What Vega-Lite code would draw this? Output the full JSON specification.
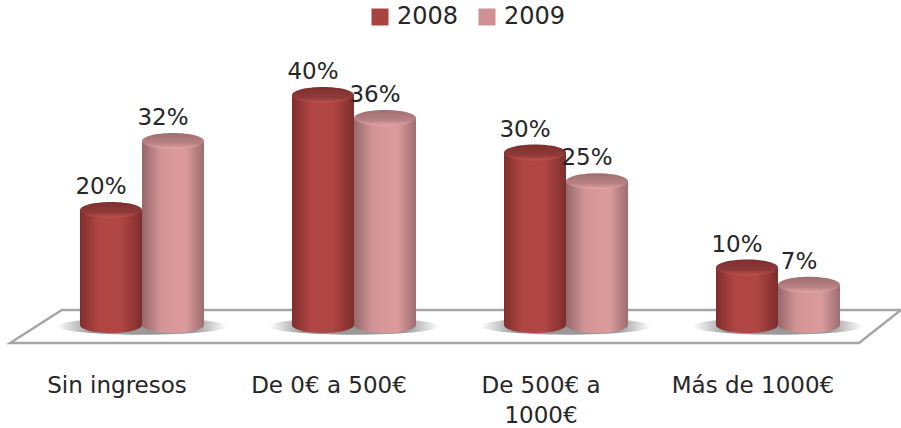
{"$schema":"https://vega.github.io/schema/vega-lite/v6.json","width":848,"height":303,"autosize":"none","padding":{"left":36,"top":40,"right":17,"bottom":85},"background":"white","view":{"stroke":null},
"data":{"values":[{"cat":"Sin ingresos","year":"2008","value":20,"label":"20%"},{"cat":"Sin ingresos","year":"2009","value":32,"label":"32%"},{"cat":"De 0€ a 500€","year":"2008","value":40,"label":"40%"},{"cat":"De 0€ a 500€","year":"2009","value":36,"label":"36%"},{"cat":"De 500€ a|1000€","year":"2008","value":30,"label":"30%"},{"cat":"De 500€ a|1000€","year":"2009","value":25,"label":"25%"},{"cat":"Más de 1000€","year":"2008","value":10,"label":"10%"},{"cat":"Más de 1000€","year":"2009","value":7,"label":"7%"}]},
"config":{"font":"DejaVu Sans"},
"encoding":{"y":{"field":"value","type":"quantitative","axis":null,"stack":null,"scale":{"domain":[-3.13,49.57],"nice":false,"zero":false}}},
"layer":[
{"transform":[{"filter":"datum.label=='20%'"}],"mark":{"type":"point","filled":false,"opacity":1,"stroke":"#a6a6a6","strokeWidth":2.5,"size":719104,"shape":"M-1.061,0.0389L-0.939,-0.0389L1.04,-0.0389L0.941,0.0389Z","clip":false},"encoding":{"y":{"datum":-0.26,"type":"quantitative"}}},
{"transform":[{"filter":"datum.year=='2008'"}],"mark":{"type":"point","filled":true,"opacity":1,"fill":{"x1":0,"y1":0,"x2":1,"y2":0,"gradient":"linear","stops":[{"offset":0,"color":"#ffffff"},{"offset":0.2,"color":"#999999"},{"offset":0.8,"color":"#999999"},{"offset":1,"color":"#ffffff"}]},"size":28900,"shape":"M-1,0A1,0.1,0,1,1,1,0A1,0.1,0,1,1,-1,0Z"},"encoding":{"x":{"field":"cat","type":"nominal","sort":null,"title":null},"y":{"datum":-0.2,"type":"quantitative"}}},
{"mark":{"type":"point","filled":true,"opacity":1,"size":0},"encoding":{"x":{"field":"cat","type":"nominal","sort":null,"title":null},"xOffset":{"field":"year","type":"nominal","scale":{"paddingInner":0,"paddingOuter":0}},"color":{"field":"year","type":"nominal","scale":{"domain":["2008","2009"],"range":["#a84340","#cf9093"]},"legend":{"title":null,"orient":"none","legendX":332,"legendY":-35,"direction":"horizontal","columns":2,"symbolType":"square","symbolSize":289,"symbolStrokeWidth":0,"labelFontSize":24,"labelColor":"#262626","columnPadding":16,"labelOffset":5}}}},
{"mark":{"type":"point","filled":true,"opacity":1,"size":3844,"shape":"M-1,0A1,0.258,0,1,1,1,0A1,0.258,0,1,1,-1,0Z"},"encoding":{"x":{"field":"cat","type":"nominal","sort":null,"title":null},"xOffset":{"field":"year","type":"nominal","scale":{"paddingInner":0,"paddingOuter":0}},"y":{"datum":0,"type":"quantitative"},"fill":{"condition":{"test":"datum.year=='2008'","value":{"x1":0,"y1":0,"x2":1,"y2":0,"gradient":"linear","stops":[{"offset":0,"color":"#7e2e2c"},{"offset":0.3,"color":"#b04643"},{"offset":0.65,"color":"#b04643"},{"offset":1,"color":"#7e2e2c"}]}},"value":{"x1":0,"y1":0,"x2":1,"y2":0,"gradient":"linear","stops":[{"offset":0,"color":"#94686a"},{"offset":0.3,"color":"#d49496"},{"offset":0.7,"color":"#dc9a9c"},{"offset":1,"color":"#9c6e70"}]}}}},
{"mark":{"type":"bar"},"encoding":{"x":{"field":"cat","type":"nominal","sort":null,"title":null,"scale":{"paddingInner":0.415,"paddingOuter":0.2075},"axis":{"domain":false,"ticks":false,"grid":false,"labelAngle":0,"labelAlign":"center","labelBaseline":"top","labelFontSize":23,"labelColor":"#262626","labelPadding":31,"labelOffset":-25,"labelLineHeight":30,"labelExpr":"split(datum.label,'|')"}},"xOffset":{"field":"year","type":"nominal","scale":{"paddingInner":0,"paddingOuter":0}},"fill":{"condition":{"test":"datum.year=='2008'","value":{"x1":0,"y1":0,"x2":1,"y2":0,"gradient":"linear","stops":[{"offset":0,"color":"#7e2e2c"},{"offset":0.3,"color":"#b04643"},{"offset":0.65,"color":"#b04643"},{"offset":1,"color":"#7e2e2c"}]}},"value":{"x1":0,"y1":0,"x2":1,"y2":0,"gradient":"linear","stops":[{"offset":0,"color":"#94686a"},{"offset":0.3,"color":"#d49496"},{"offset":0.7,"color":"#dc9a9c"},{"offset":1,"color":"#9c6e70"}]}}}},
{"mark":{"type":"point","filled":true,"opacity":1,"size":3844,"shape":"M-1,0A1,0.258,0,1,1,1,0A1,0.258,0,1,1,-1,0Z"},"encoding":{"x":{"field":"cat","type":"nominal","sort":null,"title":null},"xOffset":{"field":"year","type":"nominal","scale":{"paddingInner":0,"paddingOuter":0}},"fill":{"condition":{"test":"datum.year=='2008'","value":{"x1":0,"y1":0,"x2":0,"y2":1,"gradient":"linear","stops":[{"offset":0,"color":"#7c2f2e"},{"offset":0.65,"color":"#8e3a38"},{"offset":1,"color":"#c0504d"}]}},"value":{"x1":0,"y1":0,"x2":0,"y2":1,"gradient":"linear","stops":[{"offset":0,"color":"#a06e70"},{"offset":0.65,"color":"#b88284"},{"offset":1,"color":"#e6a6a8"}]}}}},
{"mark":{"type":"text","fontSize":23,"color":"#262626","dx":-10,"dy":-23},"encoding":{"x":{"field":"cat","type":"nominal","sort":null,"title":null},"xOffset":{"field":"year","type":"nominal","scale":{"paddingInner":0,"paddingOuter":0}},"text":{"field":"label"}}}
]}
